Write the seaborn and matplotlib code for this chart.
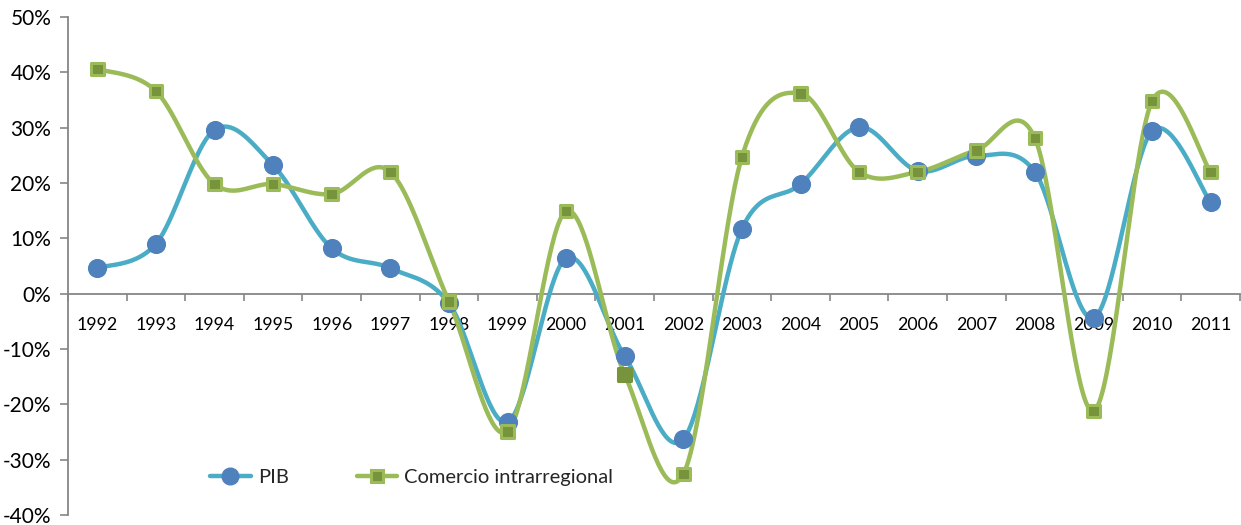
import numpy as np
import pandas as pd
import matplotlib
matplotlib.use("Agg")
import matplotlib.pyplot as plt
from matplotlib.lines import Line2D
from matplotlib.ticker import FuncFormatter, MultipleLocator, FixedLocator
import seaborn as sns

years = ["1992", "1993", "1994", "1995", "1996", "1997", "1998", "1999", "2000", "2001",
         "2002", "2003", "2004", "2005", "2006", "2007", "2008", "2009", "2010", "2011"]
pib = [0.046, 0.090, 0.296, 0.232, 0.082, 0.046, -0.017, -0.232, 0.064, -0.113,
       -0.263, 0.117, 0.198, 0.301, 0.222, 0.249, 0.220, -0.044, 0.294, 0.165]
comercio = [0.406, 0.366, 0.198, 0.198, 0.180, 0.220, -0.014, -0.249, 0.149, -0.146,
            -0.326, 0.247, 0.362, 0.220, 0.220, 0.259, 0.281, -0.212, 0.348, 0.220]
series_names = ["PIB", "Comercio intrarregional"]
highlight_year = "2001"

PIB_LINE = "#4BACC6"
PIB_MARK = "#4F81BD"
COM_LINE = "#9BBB59"
COM_DARK = "#77933C"
AXIS_GREY = "#868686"


def smooth(xs, ys, steps=40):
    """Bezier smoothing with Catmull-Rom style control points (spreadsheet 'smoothed line')."""
    pts = np.column_stack([xs, ys]).astype(float)
    n = len(pts)
    out = []
    for i in range(n - 1):
        p0 = pts[max(i - 1, 0)]
        p1 = pts[i]
        p2 = pts[i + 1]
        p3 = pts[min(i + 2, n - 1)]
        c1 = p1 + (p2 - p0) / 6.0
        c2 = p2 - (p3 - p1) / 6.0
        t = np.linspace(0, 1, steps, endpoint=(i == n - 2))[:, None]
        seg = ((1 - t) ** 3) * p1 + 3 * ((1 - t) ** 2) * t * c1 + 3 * (1 - t) * t ** 2 * c2 + t ** 3 * p2
        out.append(seg)
    out = np.vstack(out)
    return out[:, 0], out[:, 1]


sns.set_theme(style="white")
plt.rcParams["font.family"] = ["Lato", "DejaVu Sans"]

fig = plt.figure(figsize=(12.41, 5.25), dpi=100)
ax = fig.add_axes([68 / 1241, 1 - 515 / 525, (1240 - 68) / 1241, (515 - 17) / 525])

pos = np.arange(len(years))

# smoothed curves
for vals, color in [(pib, PIB_LINE), (comercio, COM_LINE)]:
    sx, sy = smooth(pos, vals)
    sns.lineplot(x=sx, y=sy, sort=False, color=color, linewidth=3.2, ax=ax, zorder=2)

# point markers
df = pd.DataFrame({"pos": pos, "PIB": pib, "Comercio": comercio})
sns.scatterplot(data=df, x="pos", y="PIB", marker="o", s=190, color=PIB_MARK,
                edgecolor=PIB_MARK, linewidth=0, ax=ax, zorder=4)
com_edge = [COM_DARK if y == highlight_year else COM_LINE for y in years]
sns.scatterplot(data=df, x="pos", y="Comercio", marker="s", s=80, color=COM_DARK,
                ax=ax, zorder=5, linewidth=2.2, edgecolor=com_edge)

ax.set_xlim(-0.5, len(years) - 0.5)
ax.set_ylim(-0.40, 0.50)
ax.set_xlabel("")
ax.set_ylabel("")

# axes styling
for side in ["top", "right"]:
    ax.spines[side].set_visible(False)
ax.spines["left"].set_color(AXIS_GREY)
ax.spines["left"].set_linewidth(1.3)
ax.spines["bottom"].set_position(("data", 0))
ax.spines["bottom"].set_color(AXIS_GREY)
ax.spines["bottom"].set_linewidth(1.3)
ax.spines["left"].set_zorder(1)
ax.spines["bottom"].set_zorder(1)

ax.yaxis.set_major_locator(MultipleLocator(0.10))
ax.yaxis.set_major_formatter(FuncFormatter(lambda v, _: f"{v * 100:.0f}%"))
ax.tick_params(axis="y", direction="out", length=6, width=1.2, color=AXIS_GREY,
               labelsize=15, labelcolor="#000000", pad=6, left=True)

ax.set_xticks(pos)
ax.set_xticklabels(years)
ax.xaxis.set_minor_locator(FixedLocator(np.arange(-0.5, len(years), 1.0)))
ax.tick_params(axis="x", which="major", length=0, labelsize=12.8, pad=17, labelcolor="#000000")
ax.tick_params(axis="x", which="minor", direction="out", length=5, width=1.2,
               color=AXIS_GREY, bottom=True)

handles = [
    Line2D([0], [0], color=PIB_LINE, lw=3.2, marker="o", markersize=12,
           markerfacecolor=PIB_MARK, markeredgecolor=PIB_MARK),
    Line2D([0], [0], color=COM_LINE, lw=3.2, marker="s", markersize=8,
           markerfacecolor=COM_DARK, markeredgecolor=COM_LINE, markeredgewidth=2.2),
]
ax.legend(handles, series_names, loc="lower left", bbox_to_anchor=(0.106, 0.021),
          ncol=2, frameon=False, fontsize=14.5, handlelength=2.0, columnspacing=3.4,
          handletextpad=0.35)

fig.savefig("out.png", dpi=100)
